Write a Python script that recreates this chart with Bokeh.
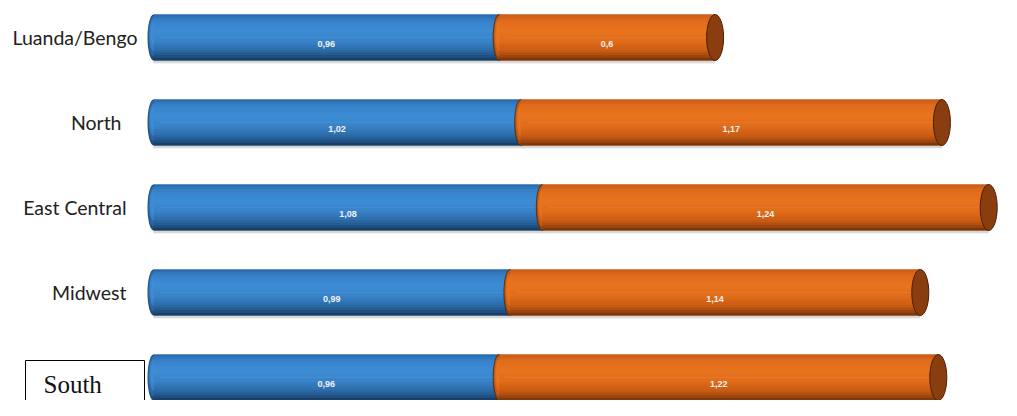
from bokeh.plotting import figure
from bokeh.models import ColumnDataSource, Range1d
from bokeh.core.properties import value
from bokeh.embed import file_html
from bokeh.resources import INLINE

# ---- data ----
categories = ["Luanda/Bengo", "North", "East Central", "Midwest", "South"]
series1 = [0.96, 1.02, 1.08, 0.99, 0.96]
series2 = [0.6, 1.17, 1.24, 1.14, 1.22]
labels1 = ["0,96", "1,02", "1,08", "0,99", "0,96"]
labels2 = ["0,6", "1,17", "1,24", "1,14", "1,22"]

# ---- layout ----
W, H = 1001, 400
PX_R = 360.0        # pixels per unit on x
X0_R = 153.0        # pixel of x=0
PY_R = 85.0         # pixels per category step
YC_R = 377.0        # pixel (from top) of last category centre
BAR_H = 46 / PY_R
N = 18

n = len(categories)
ys = [n - 1 - i for i in range(n)]
ends = [a + b for a, b in zip(series1, series2)]


def rx(px):  # pixel -> data x
    return (px - X0_R) / PX_R


def ry(py):  # pixel from top -> data y
    return (YC_R - py) / PY_R


p = figure(width=W, height=H, output_backend="svg", toolbar_location=None,
           x_range=Range1d(rx(0), rx(W)),
           y_range=Range1d(ry(H), ry(0)),
           x_axis_location=None, y_axis_location=None,
           min_border=0, background_fill_color="white", border_fill_color="white")
p.outline_line_color = None
p.grid.visible = False


def hx(c):
    c = c.lstrip("#")
    return [int(c[i:i + 2], 16) for i in (0, 2, 4)]


def interp(stops, t):
    for (t0, c0), (t1, c1) in zip(stops[:-1], stops[1:]):
        if t0 <= t <= t1:
            f = (t - t0) / (t1 - t0) if t1 > t0 else 0
            a, b = hx(c0), hx(c1)
            return "#%02x%02x%02x" % tuple(int(round(a[i] + (b[i] - a[i]) * f)) for i in range(3))
    return stops[-1][1]


blue_stops = [(0, "#2a66a4"), (0.12, "#3580c8"), (0.35, "#3d8dd6"), (0.6, "#3882c8"),
              (0.8, "#2b69a6"), (0.93, "#1e4d7e"), (1.0, "#14355a")]
orange_stops = [(0, "#c45a1a"), (0.12, "#de6a1c"), (0.35, "#e8741f"), (0.6, "#e06b1a"),
                (0.8, "#c85b12"), (0.93, "#9a440e"), (1.0, "#6e2f08")]

CAP_W = 12 / PX_R
END_W = 17 / PX_R


def cap_stack(x, stops, line=None):
    src = ColumnDataSource(dict(x=x, y=ys))
    p.ellipse(x="x", y="y", width=CAP_W, height=BAR_H, source=src,
              fill_color=stops[-2][1], line_color=line, line_width=0.8)
    for frac, off, t in [(0.88, 0.03, 0.8), (0.7, 0.06, 0.6), (0.5, 0.08, 0.35)]:
        src2 = ColumnDataSource(dict(x=x, y=[y + off * BAR_H for y in ys]))
        p.ellipse(x="x", y="y", width=CAP_W * frac, height=BAR_H * frac, source=src2,
                  fill_color=interp(stops, t), line_color=None)


def body(left, right, stops):
    for k in range(N):
        t = (k + 0.5) / N
        off = BAR_H / 2 - (k + 0.5) * BAR_H / N
        src = ColumnDataSource(dict(y=[y + off for y in ys], left=left, right=right))
        p.hbar(y="y", left="left", right="right", height=BAR_H / N * 1.25, source=src,
               fill_color=interp(stops, t), line_color=None)


# faint shadow under bars
sh = ColumnDataSource(dict(y=[y - BAR_H / 2 - 1.5 / PY_R for y in ys], left=[0] * n, right=ends))
p.hbar(y="y", left="left", right="right", height=2.5 / PY_R, source=sh,
       fill_color="#d8d8d8", line_color=None)

# blue series
cap_stack([0] * n, blue_stops)
body([0] * n, series1, blue_stops)

# orange series
cap_stack(series1, orange_stops, line="#4a2a10")
body(series1, ends, orange_stops)

# right end caps
ec = ColumnDataSource(dict(x=ends, y=ys))
p.ellipse(x="x", y="y", width=END_W, height=BAR_H, source=ec,
          fill_color="#8a3d0f", line_color="#4a1f05", line_width=1)

# value labels
lab = ColumnDataSource(dict(
    x=[a / 2 for a in series1] + [a + b / 2 for a, b in zip(series1, series2)],
    y=[y - 0.08 for y in ys] * 2,
    t=labels1 + labels2))
p.text(x="x", y="y", text="t", source=lab, text_align="center", text_baseline="middle",
       text_color="#f2f2f2", text_font=value("Liberation Sans"), text_font_style="bold",
       text_font_size="9px")

# category labels (first four)
label_right_px = [137, 121, 126, 126]
cl = ColumnDataSource(dict(x=[rx(r) for r in label_right_px], y=ys[:4], t=categories[:4]))
p.text(x="x", y="y", text="t", source=cl, text_align="right", text_baseline="middle",
       text_color="#222222", text_font=value("Lato"), text_font_size="19.5px")

# boxed last label
p.quad(left=[rx(25)], right=[rx(144)], top=[ry(360)], bottom=[ry(430)],
       fill_color="white", line_color="black", line_width=1)
p.text(x=[rx(43)], y=[ry(384)], text=[categories[4]],
       text_align="left", text_baseline="alphabetic", text_color="#111111",
       text_font=value("Liberation Serif"), text_font_size="25px")

open("out.html", "w").write(file_html(p, INLINE))
